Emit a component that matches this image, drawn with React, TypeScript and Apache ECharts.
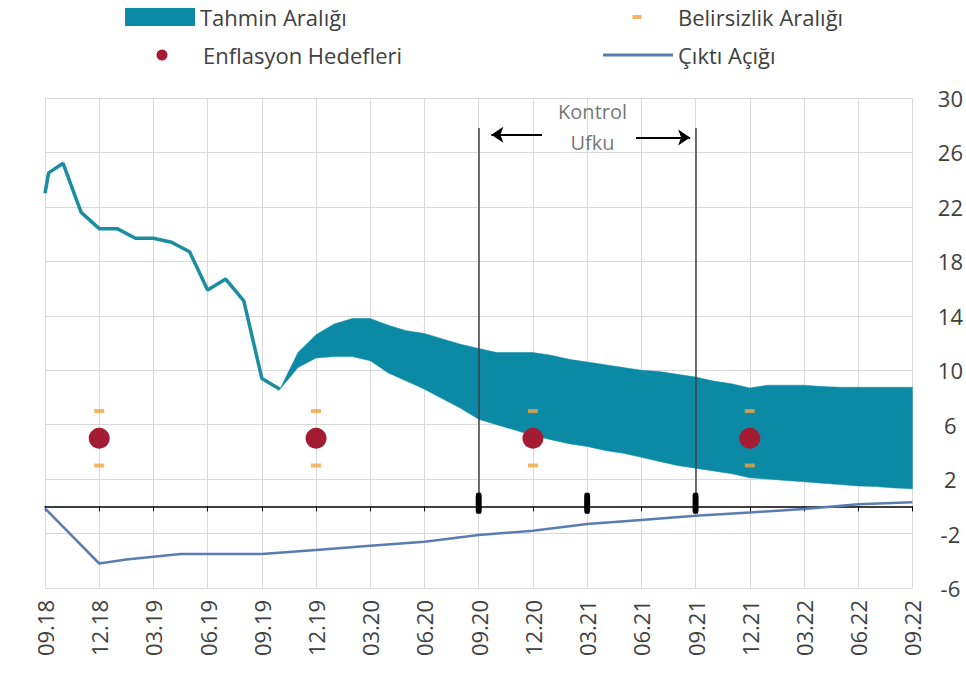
import React, { useEffect, useRef } from "react";
import * as echarts from "echarts";

const quarterLabels = ["09.18", "12.18", "03.19", "06.19", "09.19", "12.19", "03.20", "06.20", "09.20", "12.20", "03.21", "06.21", "09.21", "12.21", "03.22", "06.22", "09.22"];

// month index (0 = 09.18) and annual inflation
const inflationHistory: [number, number][] = [
  [0, 23.0], [0.2, 24.5], [1, 25.2], [2, 21.6], [3, 20.4], [4, 20.4], [5, 19.7], [6, 19.7],
  [7, 19.4], [8, 18.7], [9, 15.9], [10, 16.7], [11, 15.1], [12, 9.4], [13, 8.6],
];

const bandMonths = [13, 14, 15, 16, 17, 18, 19, 20, 21, 22, 23, 24, 25, 26, 27, 28, 29, 30, 31, 32, 33, 34, 35, 36, 37, 38, 39, 40, 41, 42, 43, 44, 45, 46, 47, 48];
const bandUpper = [8.6, 11.3, 12.6, 13.4, 13.8, 13.8, 13.3, 12.9, 12.7, 12.3, 11.9, 11.6, 11.3, 11.3, 11.3, 11.1, 10.8, 10.6, 10.4, 10.2, 10.0, 9.9, 9.7, 9.5, 9.2, 9.0, 8.7, 8.9, 8.9, 8.9, 8.8, 8.75, 8.75, 8.75, 8.75, 8.75];
const bandLower = [8.6, 10.2, 10.9, 11.0, 11.0, 10.7, 9.8, 9.2, 8.6, 7.9, 7.2, 6.4, 6.0, 5.6, 5.2, 4.9, 4.6, 4.4, 4.1, 3.9, 3.6, 3.3, 3.0, 2.8, 2.6, 2.4, 2.1, 2.0, 1.9, 1.8, 1.7, 1.6, 1.5, 1.45, 1.35, 1.3];

const outputGap: [number, number][] = [
  [0, -0.15], [3, -4.2], [4.5, -3.9], [6, -3.7], [7.5, -3.5], [9, -3.5], [12, -3.5], [15, -3.2],
  [18, -2.9], [21, -2.6], [24, -2.1], [27, -1.8], [30, -1.3], [33, -1.0], [36, -0.7], [39, -0.45],
  [42, -0.2], [45, 0.15], [48, 0.3],
];

const targetMonths = [3, 15, 27, 39];
const targetValues = [5, 5, 5, 5];
const uncertaintyUpper = [7, 7, 7, 7];
const uncertaintyLower = [3, 3, 3, 3];
const horizonMarks = [24, 30, 36];
const horizonStart = 24;
const horizonEnd = 36;

const FONT = "Open Sans";
const TXT = "#404040";
const TEAL = "#0b89a5";
const TEAL_LINE = "#1a8e9f";
const GAP = "#5b7cb2";
const RED = "#a31c33";
const ORANGE = "#f0a443";

// legend icons: degenerate corner points make the icon span the whole item box
const DOT_ICON = "path://M0,0L0,0M72,11L72,11M30.5,5.5a5.5,5.5 0 1,0 11,0a5.5,5.5 0 1,0 -11,0z";
const DASH_ICON = "path://M0,0L0,0M72,4L72,4M31.5,0h9v4h-9z";

export default function App() {
  const ref = useRef<HTMLDivElement>(null);
  useEffect(() => {
    if (!ref.current) return;
    const chart = echarts.init(ref.current, undefined, { renderer: "svg" });
    const legendText = { fontFamily: FONT, fontSize: 22, color: TXT };
    const option: any = {
      animation: false,
      backgroundColor: "#ffffff",
      textStyle: { fontFamily: FONT },
      grid: { left: 45, right: 53, top: 98, bottom: 85, containLabel: false },
      legend: [
        {
          left: 125, top: 6, padding: 0, itemWidth: 70, itemHeight: 18, symbolKeepAspect: false,
          textStyle: legendText, selectedMode: false,
          data: [{ name: "Tahmin Aralığı", icon: "rect", itemStyle: { color: TEAL } }],
        },
        {
          left: 126, top: 44, padding: 0, itemWidth: 72, itemHeight: 11, symbolKeepAspect: false,
          textStyle: legendText, selectedMode: false,
          data: [{ name: "Enflasyon Hedefleri", icon: DOT_ICON, itemStyle: { color: RED } }],
        },
        {
          left: 601, top: 6, padding: 0, itemWidth: 72, itemHeight: 4, symbolKeepAspect: false,
          textStyle: legendText, selectedMode: false,
          data: [{ name: "Belirsizlik Aralığı", icon: DASH_ICON, itemStyle: { color: ORANGE } }],
        },
        {
          left: 603, top: 44, padding: 0, itemWidth: 70, itemHeight: 3, symbolKeepAspect: false,
          textStyle: legendText, selectedMode: false,
          data: [{ name: "Çıktı Açığı", icon: "rect", itemStyle: { color: GAP } }],
        },
      ],
      xAxis: [
        {
          type: "value", min: 0, max: 48, interval: 3, position: "bottom",
          axisLine: { show: false, onZero: false },
          axisTick: { show: false },
          splitLine: { show: true, lineStyle: { color: "#d9d9d9", width: 1 } },
          axisLabel: {
            rotate: 90, margin: 12, fontSize: 22, color: TXT, fontFamily: FONT,
            formatter: (v: number) => quarterLabels[Math.round(v / 3)] ?? "",
          },
        },
        {
          type: "value", min: 0, max: 48, interval: 3, position: "bottom",
          axisLine: { show: true, onZero: true, lineStyle: { color: "#000000", width: 1.5 } },
          axisTick: { show: true, length: 5, lineStyle: { color: "#000000", width: 1 } },
          splitLine: { show: false },
          axisLabel: { show: false },
        },
      ],
      yAxis: {
        type: "value", position: "right", min: -6, max: 30, interval: 4,
        axisLine: { show: false, onZero: false },
        axisTick: { show: false },
        splitLine: { show: true, lineStyle: { color: "#d9d9d9", width: 1 } },
        axisLabel: { margin: 38, align: "center", fontSize: 22, color: TXT, fontFamily: FONT },
      },
      series: [
        {
          name: "Tahmin Aralığı", type: "custom", silent: true, z: 2,
          itemStyle: { color: TEAL },
          encode: { x: 0, y: [1, 2] },
          data: bandMonths.map((m, i) => [m, bandLower[i], bandUpper[i]]),
          renderItem: (params: any, api: any) => {
            if (params.dataIndex !== 0) return null;
            const top = bandMonths.map((m, i) => api.coord([m, bandUpper[i]]));
            const bottom = bandMonths.map((m, i) => api.coord([m, bandLower[i]])).reverse();
            return {
              type: "polygon",
              shape: { points: top.concat(bottom) },
              style: { fill: TEAL, stroke: TEAL, lineWidth: 0.5 },
            };
          },
        },
        {
          name: "Enflasyon", type: "line", symbol: "none",
          data: inflationHistory,
          lineStyle: { width: 3.5, color: TEAL_LINE }, itemStyle: { color: TEAL_LINE }, z: 3,
        },
        {
          name: "Çıktı Açığı", type: "line", symbol: "none",
          data: outputGap,
          lineStyle: { width: 2.5, color: GAP }, itemStyle: { color: GAP }, z: 4,
          markLine: {
            silent: true, symbol: ["none", "none"], label: { show: false },
            lineStyle: { color: "#404040", width: 1.5, type: "solid" },
            data: [
              [{ coord: [horizonStart, 27.8] }, { coord: [horizonStart, 0] }],
              [{ coord: [horizonEnd, 27.8] }, { coord: [horizonEnd, 0] }],
              [
                { coord: [27.5, 27.3], symbol: "none", lineStyle: { color: "#000", width: 2 } },
                { coord: [24.7, 27.3], symbol: "arrow", symbolSize: 12 },
              ],
              [
                { coord: [32.7, 27.1], symbol: "none", lineStyle: { color: "#000", width: 2 } },
                { coord: [35.7, 27.1], symbol: "arrow", symbolSize: 12 },
              ],
            ],
          },
        },
        {
          name: "Belirsizlik Aralığı", type: "scatter", symbol: "rect", symbolSize: [10, 4],
          itemStyle: { color: ORANGE }, z: 6,
          data: [
            ...targetMonths.map((m, i) => [m, uncertaintyUpper[i]]),
            ...targetMonths.map((m, i) => [m, uncertaintyLower[i]]),
          ],
        },
        {
          name: "Enflasyon Hedefleri", type: "scatter", symbol: "circle", symbolSize: 21,
          itemStyle: { color: RED, opacity: 1 }, z: 6,
          data: targetMonths.map((m, i) => [m, targetValues[i]]),
        },
        {
          name: "horizonMarks", type: "scatter", symbol: "roundRect", symbolSize: [6, 21], symbolOffset: [0, -3],
          itemStyle: { color: "#000000", opacity: 1 }, z: 7, silent: true,
          data: horizonMarks.map((m) => [m, 0]),
        },
        {
          name: "annot", type: "scatter", symbol: "circle", symbolSize: 1, silent: true, z: 8,
          itemStyle: { color: "rgba(0,0,0,0)" },
          label: { show: true, position: "inside", formatter: (p: any) => p.name, fontSize: 20, color: "#505050", fontFamily: FONT },
          data: [
            { name: "Kontrol", value: [30.3, 29.0] },
            { name: "Ufku", value: [30.3, 26.7] },
          ],
        },
      ],
    };
    chart.setOption(option);
    return () => chart.dispose();
  }, []);
  return <div ref={ref} style={{ position: "fixed", left: 0, top: 0, width: 966, height: 673 }} />;
}
